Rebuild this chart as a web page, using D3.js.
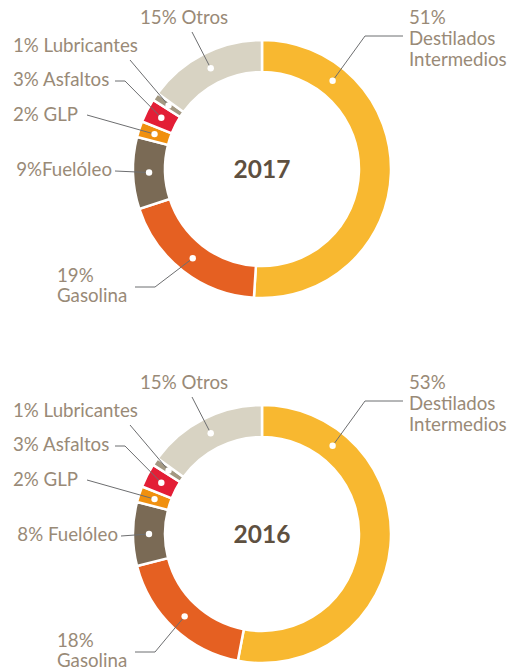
<!DOCTYPE html>
<html>
<head>
<meta charset="utf-8">
<script src="https://cdn.jsdelivr.net/npm/d3@7"></script>
<style>
  html, body { margin: 0; padding: 0; background: #fff; }
  svg { display: block; }
  .lbl { font-family: Lato, "Open Sans", sans-serif; font-size: 18.7px; fill: #998a77; }
  .year { font-family: Lato, "Open Sans", sans-serif; font-weight: 700; font-size: 24.5px; fill: #5e5040; }
</style>
</head>
<body>
<svg id="chart" width="512" height="671"></svg>
<script>
// ---- data ----
const categories = ["Destilados Intermedios", "Gasolina", "Fuelóleo", "GLP", "Asfaltos", "Lubricantes", "Otros"];
const values2017 = [51, 19, 9, 2, 3, 1, 15];
const values2016 = [53, 18, 8, 2, 3, 1, 15];
const years = ["2017", "2016"];
const colors = ["#f8b830", "#e56022", "#7a6a55", "#f0900f", "#e31e36", "#a39882", "#d8d3c3"];

// ---- layout ----
const svg = d3.select("#chart");
const cx = 262;
const centersY = [169, 534];
const rOuter = 129, rInner = 97;
const rMid = (rInner + rOuter) / 2;

// label layout per category (offsets relative to donut center y)
function labelLayout(vals, yr) {
  const fuelTxt = yr === "2017" ? vals[2] + "%Fuelóleo" : vals[2] + "% Fuelóleo";
  return [
    { lines: [vals[0] + "%", "Destilados", "Intermedios"], tx: 409, ty: -145, anchor: "start", lh: 21,
      pts: [[403, -133], [365, -133]], dotAngle: 0.675 },
    { lines: [vals[1] + "%", "Gasolina"], tx: 57, ty: 113, anchor: "start", lh: 20,
      pts: [[135, 118], [155, 118]] },
    { lines: [fuelTxt], tx: yr === "2017" ? 112 : 118, ty: 7, anchor: "end", lh: 20,
      pts: [[yr === "2017" ? 115 : 121, 2]] },
    { lines: [vals[3] + "% GLP"], tx: 13, ty: -48, anchor: "start", lh: 20,
      pts: [[87, -54]] },
    { lines: [vals[4] + "% Asfaltos"], tx: 13, ty: -83, anchor: "start", lh: 20,
      pts: [[115, -88], [125, -88]] },
    { lines: [vals[5] + "% Lubricantes"], tx: 13, ty: -117, anchor: "start", lh: 20,
      pts: [[130, -109]] },
    { lines: [vals[6] + "% Otros"], tx: 140, ty: -145, anchor: "start", lh: 20,
      pts: [[192, -137]] }
  ];
}

const pie = d3.pie().sort(null).value(d => d);
const arc = d3.arc().innerRadius(rInner).outerRadius(rOuter);
const mid = d3.arc().innerRadius(rMid).outerRadius(rMid);

[values2017, values2016].forEach((vals, i) => {
  const cy = centersY[i];
  const g = svg.append("g").attr("transform", `translate(${cx},${cy})`);
  const arcs = pie(vals);

  g.selectAll("path.seg").data(arcs).join("path")
    .attr("class", "seg")
    .attr("d", arc)
    .attr("fill", (d, j) => colors[j])
    .attr("stroke", "#fff")
    .attr("stroke-width", 2.5);

  const layout = labelLayout(vals, years[i]);
  const lg = svg.append("g");
  arcs.forEach((a, j) => {
    const L = layout[j];
    let c = mid.centroid(a);
    if (L.dotAngle !== undefined) c = [rMid * Math.sin(L.dotAngle), -rMid * Math.cos(L.dotAngle)];
    const pts = L.pts.map(p => [p[0], cy + p[1]]);
    pts.push([cx + c[0], cy + c[1]]);
    lg.append("path")
      .attr("d", d3.line()(pts))
      .attr("fill", "none")
      .attr("stroke", "#6d6e70")
      .attr("stroke-width", 1);
    lg.append("circle")
      .attr("cx", cx + c[0]).attr("cy", cy + c[1]).attr("r", 3.2)
      .attr("fill", "#fff");
    const t = lg.append("text").attr("class", "lbl")
      .attr("text-anchor", L.anchor);
    L.lines.forEach((s, k) => {
      t.append("tspan").attr("x", L.tx).attr("y", cy + L.ty + k * L.lh).text(s);
    });
  });

  g.append("text").attr("class", "year")
    .attr("text-anchor", "middle")
    .attr("y", 9)
    .text(years[i]);
});
</script>
</body>
</html>
